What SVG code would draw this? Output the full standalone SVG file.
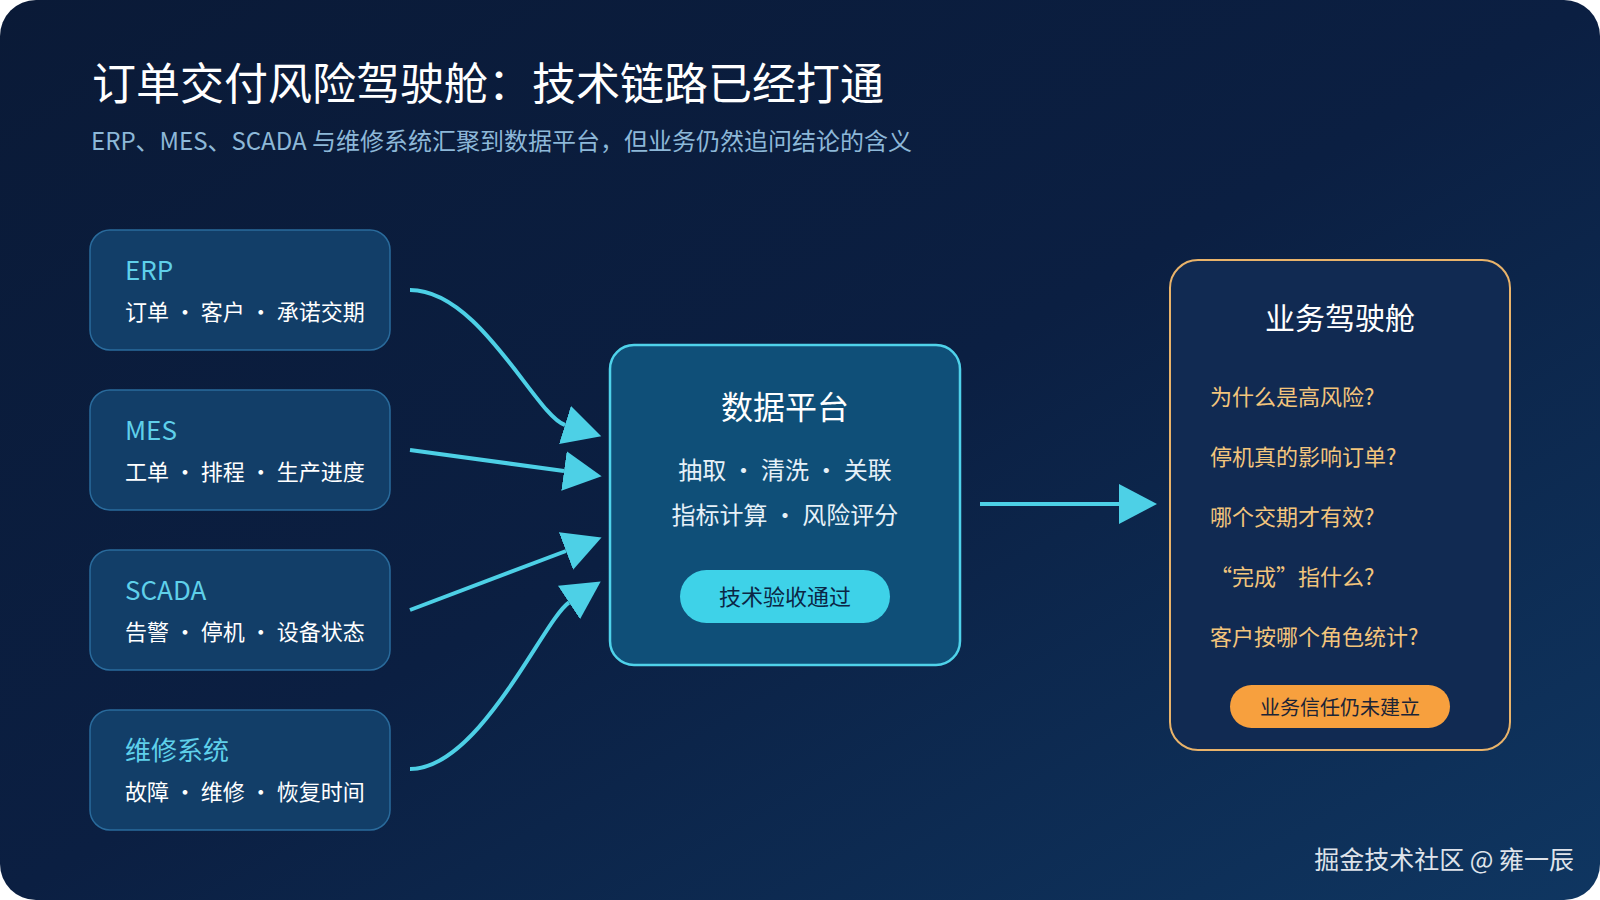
<svg xmlns="http://www.w3.org/2000/svg" width="1600" height="900" viewBox="0 0 1600 900">
<defs>
<linearGradient id="bg" x1="0" y1="0" x2="1" y2="1">
<stop offset="0" stop-color="#0a1a37"/>
<stop offset="0.5" stop-color="#0b1f42"/>
<stop offset="1" stop-color="#0f3661"/>
</linearGradient>
<marker id="ah" markerUnits="userSpaceOnUse" markerWidth="40" markerHeight="40" viewBox="0 0 40 40" refX="0" refY="20" orient="auto">
<path d="M0,0 L38,20 L0,40 z" fill="#4dd0e6"/>
</marker>
<style>
.t{font-family:"Noto Sans CJK SC","Noto Sans",sans-serif}
.src rect{fill:#123e68;stroke:#2a6b9c;stroke-width:1.5}
.src .h{font-size:26px;fill:#5fd0ea}
.src .s{font-size:22px;fill:#ffffff}
.conn path{fill:none;stroke:#4dd0e6;stroke-width:4;marker-end:url(#ah)}
.q{font-size:22px;fill:#f3c57c}
</style>
</defs>
<rect x="0" y="0" width="1600" height="900" rx="36" fill="url(#bg)"/>
<g id="title">
<text class="t" x="92" y="100" font-size="44" fill="#ffffff">订单交付风险驾驶舱：技术链路已经打通</text>
<text class="t" x="91" y="150" font-size="24" fill="#8db8d8">ERP、MES、SCADA 与维修系统汇聚到数据平台，但业务仍然追问结论的含义</text>
</g>
<g id="src-erp" class="src">
<rect x="90" y="230" width="300" height="120" rx="20"/>
<text class="t h" x="125" y="280">ERP</text>
<text class="t s" x="125" y="320" xml:space="preserve">订单 · 客户 · 承诺交期</text>
</g>
<g id="src-mes" class="src">
<rect x="90" y="390" width="300" height="120" rx="20"/>
<text class="t h" x="125" y="440">MES</text>
<text class="t s" x="125" y="480" xml:space="preserve">工单 · 排程 · 生产进度</text>
</g>
<g id="src-scada" class="src">
<rect x="90" y="550" width="300" height="120" rx="20"/>
<text class="t h" x="125" y="600">SCADA</text>
<text class="t s" x="125" y="640" xml:space="preserve">告警 · 停机 · 设备状态</text>
</g>
<g id="src-maint" class="src">
<rect x="90" y="710" width="300" height="120" rx="20"/>
<text class="t h" x="125" y="760">维修系统</text>
<text class="t s" x="125" y="800" xml:space="preserve">故障 · 维修 · 恢复时间</text>
</g>
<g id="connectors" class="conn">
<path d="M410,290 C480,290 536,416 565,425"/>
<path d="M410,450 L564,471"/>
<path d="M410,610 L566,551"/>
<path d="M410,769 C480,769 544,619 569,602.5"/>
<path d="M980,504 L1119,504"/>
</g>
<g id="platform">
<rect x="610" y="345" width="350" height="320" rx="24" fill="#0f4f78" stroke="#4fd2ea" stroke-width="2.5"/>
<text class="t" x="785" y="419" font-size="32" fill="#ffffff" text-anchor="middle">数据平台</text>
<text class="t" x="785" y="479" font-size="24" fill="#e6f1f8" text-anchor="middle" xml:space="preserve">抽取 · 清洗 · 关联</text>
<text class="t" x="785" y="524" font-size="24" fill="#e6f1f8" text-anchor="middle" xml:space="preserve">指标计算 · 风险评分</text>
<rect x="680" y="570" width="210" height="53" rx="26.5" fill="#3ed2e8"/>
<text class="t" x="785" y="605" font-size="22" fill="#0b2645" text-anchor="middle">技术验收通过</text>
</g>
<g id="cockpit">
<rect x="1170" y="260" width="340" height="490" rx="28" fill="#112a52" stroke="#e9b36a" stroke-width="2"/>
<text class="t" x="1340" y="329" font-size="30" fill="#ffffff" text-anchor="middle">业务驾驶舱</text>
<text class="t q" x="1210" y="405">为什么是高风险?</text>
<text class="t q" x="1210" y="465">停机真的影响订单?</text>
<text class="t q" x="1210" y="525">哪个交期才有效?</text>
<text class="t q" x="1210" y="585">“完成”指什么?</text>
<text class="t q" x="1210" y="645">客户按哪个角色统计?</text>
<rect x="1230" y="685" width="220" height="43" rx="21.5" fill="#f7a03e"/>
<text class="t" x="1340" y="715" font-size="20" fill="#1b2436" text-anchor="middle">业务信任仍未建立</text>
</g>
<text class="t" x="1574" y="869" font-size="25" fill="#dfe3ea" text-anchor="end">掘金技术社区 @ 雍一辰</text>
</svg>
